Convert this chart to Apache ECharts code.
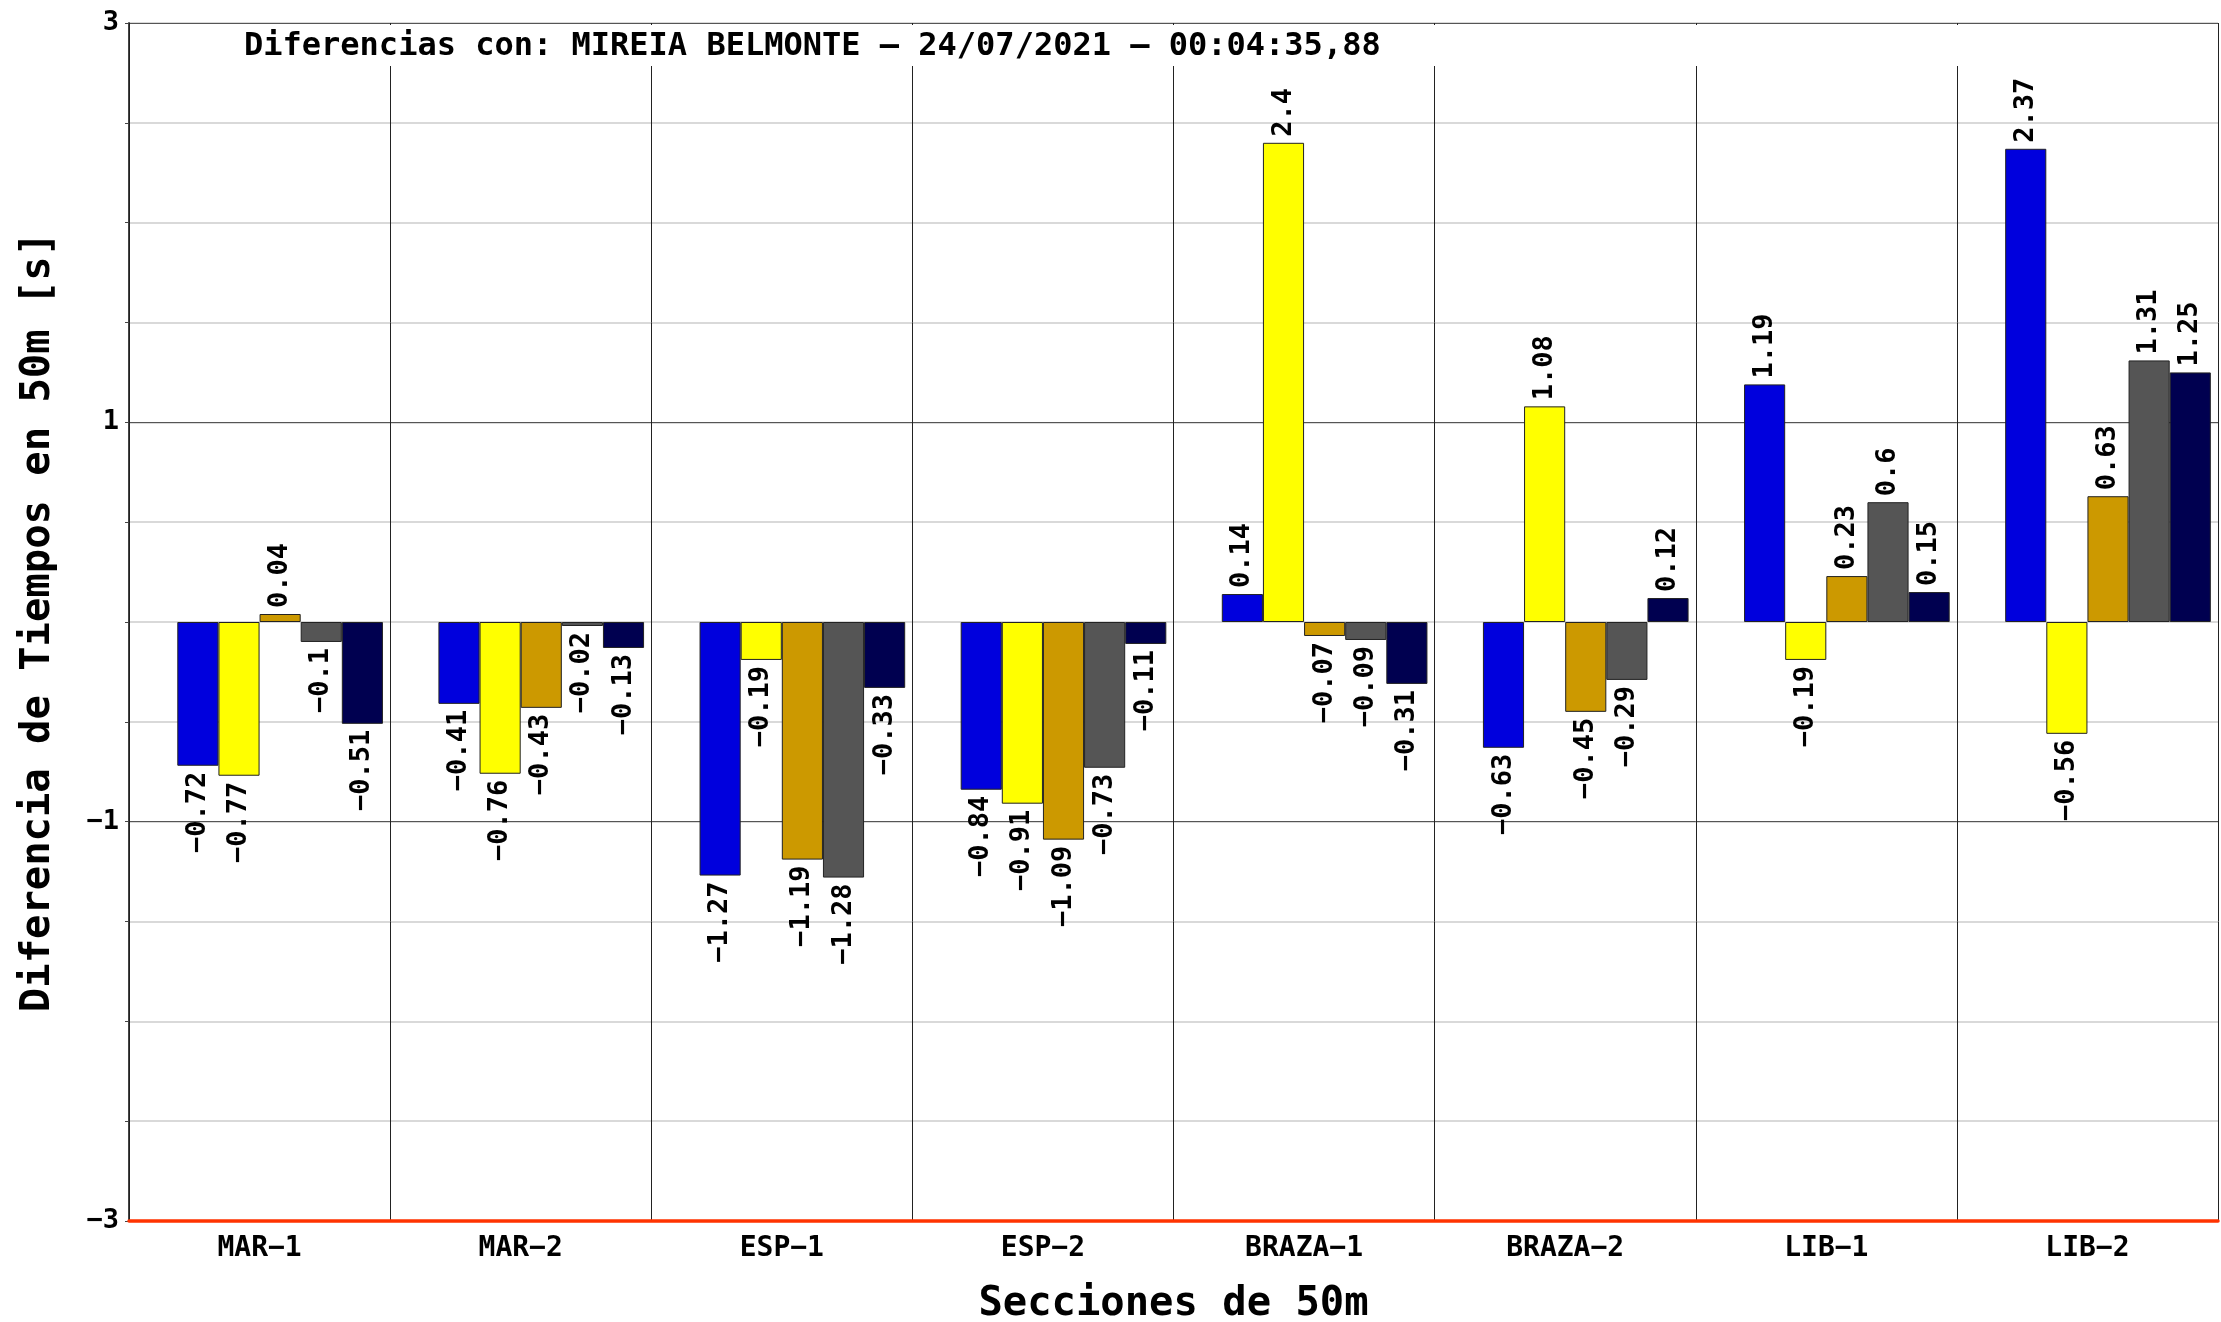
<!DOCTYPE html>
<html>
<head>
<meta charset="utf-8">
<script src="https://cdn.jsdelivr.net/npm/echarts@6/dist/echarts.min.js"></script>
<style>
html,body{margin:0;padding:0;background:#fff;}
#chart{width:2221px;height:1322px;}
</style>
</head>
<body>
<div id="chart"></div>
<script>
const titleText = 'Diferencias con: MIREIA BELMONTE – 24/07/2021 – 00:04:35,88';
const categories = ['MAR−1', 'MAR−2', 'ESP−1', 'ESP−2', 'BRAZA−1', 'BRAZA−2', 'LIB−1', 'LIB−2'];
const yTickLabels = ['−3', '−1', '1', '3'];
const seriesBlue   = [-0.72, -0.41, -1.27, -0.84, 0.14, -0.63, 1.19, 2.37];
const seriesYellow = [-0.77, -0.76, -0.19, -0.91, 2.4, 1.08, -0.19, -0.56];
const seriesGold   = [0.04, -0.43, -1.19, -1.09, -0.07, -0.45, 0.23, 0.63];
const seriesGrey   = [-0.1, -0.02, -1.28, -0.73, -0.09, -0.29, 0.6, 1.31];
const seriesNavy   = [-0.51, -0.13, -0.33, -0.11, -0.31, 0.12, 0.15, 1.25];
const seriesEmpty  = [null, null, null, null, null, null, null, null];

const colors = ['#0000dd', '#ffff00', '#cc9900', '#555555', '#000050'];
const valueSets = [seriesBlue, seriesYellow, seriesGold, seriesGrey, seriesNavy];

const FONT = 'DejaVu Sans Mono';
const fmt = v => String(v).replace('-', '−');

function makeData(arr) {
  return arr.map(v => ({
    value: v,
    label: {
      position: v >= 0 ? 'top' : 'bottom',
      align: v >= 0 ? 'left' : 'right',
      verticalAlign: 'middle'
    }
  }));
}

const barCommon = {
  type: 'bar',
  barGap: '0%',
  barCategoryGap: '5.5%',
  xAxisIndex: 0,
  yAxisIndex: 0
};

const series = [Object.assign({}, barCommon, { name: 'blank', data: seriesEmpty, silent: true })];
valueSets.forEach((arr, i) => {
  series.push(Object.assign({}, barCommon, {
    name: 's' + i,
    data: makeData(arr),
    itemStyle: { color: colors[i], borderColor: '#222', borderWidth: 1 },
    label: {
      show: true,
      rotate: 90,
      distance: 6,
      fontFamily: FONT,
      fontWeight: 'bold',
      fontSize: 27,
      color: '#000',
      formatter: p => fmt(p.value)
    }
  }));
});

const chart = echarts.init(document.getElementById('chart'), null, { renderer: 'canvas' });
chart.setOption({
  animation: false,
  backgroundColor: '#ffffff',
  title: {
    text: titleText,
    left: 244,
    top: 31,
    padding: 0,
    textStyle: { fontFamily: FONT, fontWeight: 'bold', fontSize: 32, color: '#000' }
  },
  graphic: [{
    type: 'rect',
    z: 3,
    shape: { x: 241, y: 25, width: 1741, height: 41 },
    style: { fill: '#ffffff' }
  }],
  grid: { left: 129, right: 3, top: 23, bottom: 101, containLabel: false, outerBoundsMode: 'none' },
  xAxis: [{
    type: 'category',
    data: categories,
    name: 'Secciones de 50m',
    nameLocation: 'middle',
    nameGap: 63,
    nameTextStyle: { fontFamily: FONT, fontWeight: 'bold', fontSize: 40.5, color: '#000' },
    axisLine: { show: true, onZero: false, lineStyle: { color: '#ff3300', width: 3.5 } },
    axisTick: { show: false },
    axisLabel: { margin: 14, fontFamily: FONT, fontWeight: 'bold', fontSize: 28, color: '#000' },
    splitLine: { show: true, lineStyle: { color: '#222', width: 1 } },
    z: 1
  }],
  yAxis: [{
    type: 'value',
    min: -3,
    max: 3,
    interval: 0.5,
    position: 'left',
    name: 'Diferencia de Tiempos en 50m [s]',
    nameLocation: 'middle',
    nameGap: 70,
    nameTextStyle: { fontFamily: FONT, fontWeight: 'bold', fontSize: 40.5, color: '#000' },
    axisLine: { show: true, lineStyle: { color: '#444', width: 2 } },
    axisTick: { show: true, length: 4, lineStyle: { color: '#444' } },
    axisLabel: { show: false },
    splitLine: { show: true, lineStyle: { color: '#d9d9d9', width: 2 } }
  }, {
    type: 'value',
    min: -3,
    max: 3,
    interval: 2,
    position: 'left',
    offset: 0,
    axisLine: { show: false },
    axisTick: { show: false },
    axisLabel: {
      show: true,
      margin: 10,
      fontFamily: FONT,
      fontWeight: 'bold',
      fontSize: 27,
      color: '#000',
      formatter: v => yTickLabels[Math.round((v + 3) / 2)]
    },
    splitLine: { show: true, lineStyle: { color: '#555', width: 1 } }
  }],
  series: series
});
</script>
</body>
</html>
